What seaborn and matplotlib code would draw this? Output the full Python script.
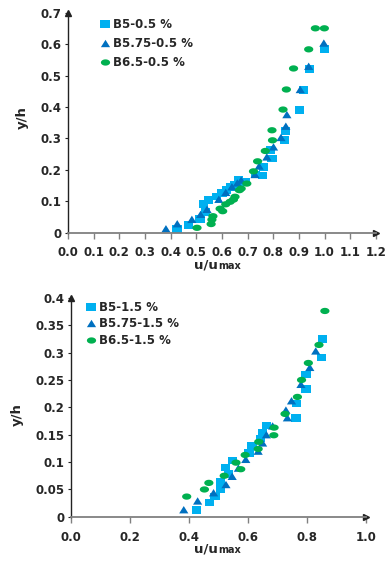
import numpy as np
import pandas as pd
import matplotlib
matplotlib.use('Agg')
import matplotlib.pyplot as plt
import seaborn as sns
from matplotlib.path import Path
from matplotlib.ticker import FuncFormatter

# ---- data, slope 0.5 % (top panel) ----
b5_05_x = [0.425, 0.470, 0.515, 0.535, 0.527, 0.548, 0.580, 0.600, 0.617, 0.635, 0.649, 0.665,
           0.690, 0.730, 0.757, 0.762, 0.795, 0.790, 0.844, 0.847, 0.901, 0.918, 0.942, 0.999]
b5_05_y = [0.011, 0.025, 0.042, 0.066, 0.090, 0.103, 0.115, 0.127, 0.135, 0.145, 0.151, 0.167,
           0.160, 0.185, 0.182, 0.209, 0.236, 0.262, 0.294, 0.324, 0.390, 0.454, 0.521, 0.584]
b575_05_x = [0.382, 0.426, 0.483, 0.517, 0.542, 0.588, 0.615, 0.639, 0.660, 0.675, 0.729, 0.745,
             0.775, 0.801, 0.830, 0.849, 0.853, 0.905, 0.938, 0.997]
b575_05_y = [0.012, 0.028, 0.042, 0.058, 0.074, 0.106, 0.128, 0.146, 0.158, 0.167, 0.185, 0.212,
             0.241, 0.273, 0.303, 0.339, 0.376, 0.456, 0.530, 0.604]
b65_05_x = [0.503, 0.558, 0.561, 0.565, 0.593, 0.603, 0.615, 0.632, 0.645, 0.651, 0.668, 0.675,
            0.697, 0.723, 0.739, 0.769, 0.797, 0.795, 0.838, 0.851, 0.879, 0.938, 0.964, 0.999]
b65_05_y = [0.015, 0.027, 0.041, 0.052, 0.076, 0.068, 0.090, 0.098, 0.105, 0.114, 0.135, 0.140,
            0.156, 0.195, 0.227, 0.260, 0.294, 0.326, 0.392, 0.456, 0.523, 0.584, 0.651, 0.651]

# ---- data, slope 1.5 % (bottom panel) ----
b5_15_x = [0.425, 0.469, 0.488, 0.507, 0.506, 0.533, 0.523, 0.546, 0.603, 0.613, 0.641, 0.649,
           0.663, 0.762, 0.764, 0.796, 0.796, 0.849, 0.852]
b5_15_y = [0.012, 0.026, 0.037, 0.050, 0.064, 0.078, 0.090, 0.103, 0.116, 0.130, 0.143, 0.154,
           0.167, 0.181, 0.207, 0.233, 0.260, 0.291, 0.325]
b575_15_x = [0.382, 0.429, 0.483, 0.525, 0.546, 0.567, 0.592, 0.634, 0.649, 0.662, 0.683, 0.728,
             0.733, 0.747, 0.779, 0.809, 0.829]
b575_15_y = [0.013, 0.029, 0.044, 0.059, 0.074, 0.089, 0.105, 0.120, 0.135, 0.150, 0.166, 0.195,
             0.181, 0.212, 0.242, 0.273, 0.303]
b65_15_x = [0.392, 0.452, 0.467, 0.519, 0.575, 0.559, 0.590, 0.634, 0.636, 0.687, 0.688, 0.725,
            0.767, 0.781, 0.804, 0.840, 0.860]
b65_15_y = [0.037, 0.050, 0.062, 0.075, 0.087, 0.099, 0.113, 0.124, 0.137, 0.149, 0.163, 0.188,
            0.219, 0.250, 0.281, 0.314, 0.376]

names_05 = ['B5-0.5 %', 'B5.75-0.5 %', 'B6.5-0.5 %']
names_15 = ['B5-1.5 %', 'B5.75-1.5 %', 'B6.5-1.5 %']
colors = ['#00B0F0', '#0070C0', '#00B050']


def make_df(names, xs, ys):
    parts = []
    for n, x, y in zip(names, xs, ys):
        parts.append(pd.DataFrame({'u': x, 'y': y, 'series': n}))
    return pd.concat(parts, ignore_index=True)


df_top = make_df(names_05, [b5_05_x, b575_05_x, b65_05_x], [b5_05_y, b575_05_y, b65_05_y])
df_bot = make_df(names_15, [b5_15_x, b575_15_x, b65_15_x], [b5_15_y, b575_15_y, b65_15_y])

# markers a bit wider than tall, like the stretched original
sq = Path([(-0.5, -0.42), (0.5, -0.42), (0.5, 0.42), (-0.5, 0.42), (-0.5, -0.42)], closed=True)
tri = Path([(0, 0.4), (-0.5, -0.4), (0.5, -0.4), (0, 0.4)], closed=True)
t = np.linspace(0, 2 * np.pi, 40)
ell = Path(np.column_stack([0.5 * np.cos(t), 0.34 * np.sin(t)]), closed=True)
mk = [sq, tri, ell]

sns.set_style('white')
plt.rcParams['font.family'] = ['DejaVu Sans']
plt.rcParams['font.weight'] = 'bold'

fig = plt.figure(figsize=(3.9, 5.63), dpi=100)
ax1 = fig.add_axes([0.174, 0.587, 0.790, 0.390])
ax2 = fig.add_axes([0.182, 0.082, 0.757, 0.389])


def draw(ax, df, names, xmax, ymax, xticks, yticks, xfmt, leg_anchor, leg_space):
    sns.scatterplot(data=df, x='u', y='y', hue='series', style='series',
                    palette=dict(zip(names, colors)), markers=dict(zip(names, mk)),
                    s=44, linewidth=0, ax=ax)
    ax.set_xlim(0, xmax)
    ax.set_ylim(0, ymax)
    ax.set_xticks(xticks)
    ax.set_yticks(yticks)
    ax.xaxis.set_major_formatter(FuncFormatter(lambda v, p: xfmt % v))
    ax.yaxis.set_major_formatter(FuncFormatter(lambda v, p: '%g' % round(v, 3)))
    for s in ['top', 'right']:
        ax.spines[s].set_visible(False)
    ax.spines['left'].set_color('#222222')
    ax.spines['bottom'].set_color('#808080')
    ax.spines['left'].set_linewidth(1.0)
    ax.spines['bottom'].set_linewidth(1.3)
    ax.tick_params(axis='x', direction='out', length=4, width=1, color='#808080',
                   labelsize=8.5, pad=6)
    ax.tick_params(axis='y', direction='out', length=2.5, width=0.8, color='#222222',
                   labelsize=8.5, pad=2)
    ax.tick_params(left=True, bottom=True)
    for lab in ax.get_xticklabels() + ax.get_yticklabels():
        lab.set_fontweight('bold')
    ax.set_xlabel('')
    ax.set_ylabel('')
    # arrow heads on the axes
    ax.plot(1, 0, '>', color='#222222', ms=5, transform=ax.get_yaxis_transform(), clip_on=False)
    ax.plot(0, 1, '^', color='#222222', ms=5, transform=ax.get_xaxis_transform(), clip_on=False)
    sns.move_legend(ax, loc='upper left', bbox_to_anchor=leg_anchor, frameon=False, title=None,
                    prop={'size': 8.5, 'weight': 'bold'}, handletextpad=0.1, borderaxespad=0,
                    labelspacing=leg_space, borderpad=0, handlelength=1.15, markerscale=1.0)


draw(ax1, df_top, names_05, 1.2, 0.7, np.round(np.arange(0, 1.21, 0.1), 1),
     np.round(np.arange(0, 0.71, 0.1), 1), '%.1f', (0.10, 0.975), 0.5)
draw(ax2, df_bot, names_15, 1.0, 0.4, np.round(np.arange(0, 1.01, 0.2), 1),
     np.round(np.arange(0, 0.401, 0.05), 2), '%.1f', (0.046, 0.987), 0.3)

# axis labels: "u/u" with a smaller "max" on the same baseline
for xc, yb in [(218, 269), (218, 553)]:
    fig.text(xc / 390, 1 - yb / 563, 'u/u', ha='right', va='baseline', fontsize=9.5,
             fontweight='bold')
    fig.text(xc / 390, 1 - yb / 563, 'max', ha='left', va='baseline', fontsize=7,
             fontweight='bold')
fig.text(22 / 390, 1 - 118 / 563, 'y/h', rotation=90, ha='center', va='center',
         fontsize=9.5, fontweight='bold')
fig.text(17 / 390, 1 - 415 / 563, 'y/h', rotation=90, ha='center', va='center',
         fontsize=9.5, fontweight='bold')

fig.savefig('out.png', dpi=100)
